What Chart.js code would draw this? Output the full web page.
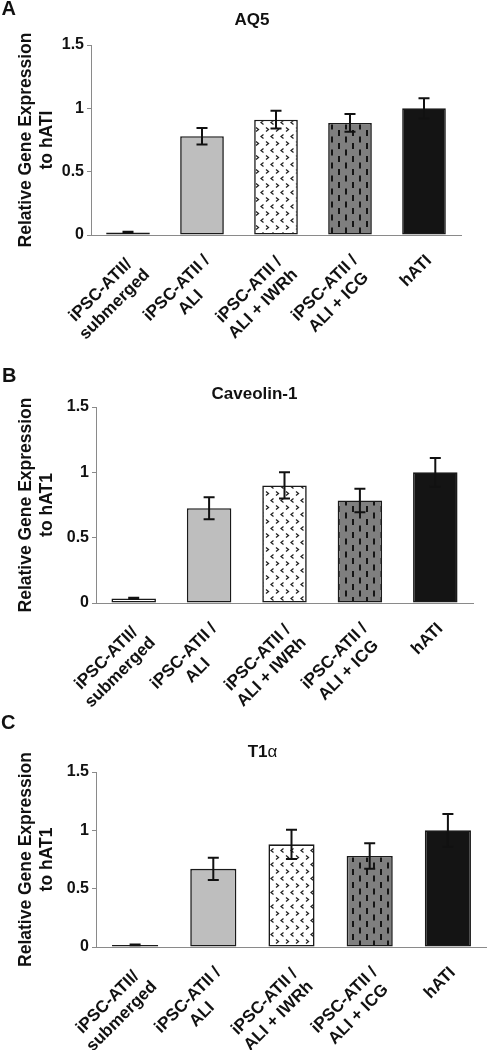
<!DOCTYPE html>
<html><head><meta charset="utf-8">
<script src="https://cdn.jsdelivr.net/npm/chart.js@4.4.1/dist/chart.umd.min.js"></script>
<style>
html,body{margin:0;padding:0;background:#fff;}
body{width:487px;height:1050px;position:relative;overflow:hidden;font-family:"Liberation Sans",Arial,sans-serif;}
canvas{position:absolute;left:0;}
.lbl{position:absolute;font-weight:bold;font-size:20px;line-height:20px;color:#111;}
.ttl{position:absolute;font-weight:bold;font-size:17px;line-height:17px;transform:translate(-50%,-50%);white-space:nowrap;color:#111;}
</style></head><body>
<canvas id="cA" width="487" height="380" style="top:0px"></canvas>
<canvas id="cB" width="487" height="380" style="top:350px"></canvas>
<canvas id="cC" width="487" height="350" style="top:700px"></canvas>
<div class="lbl" style="left:1.5px;top:-2px">A</div>
<div class="lbl" style="left:2px;top:364.5px">B</div>
<div class="lbl" style="left:1px;top:711.5px">C</div>
<div class="ttl" style="left:252px;top:18.5px">AQ5</div>
<div class="ttl" style="left:254.5px;top:393px">Caveolin-1</div>
<div class="ttl" style="left:262.5px;top:751px">T1<span style="font-weight:normal">α</span></div>
<script>
// ---- data ----
const categories = [
  ["iPSC-ATII/", "submerged"],
  ["iPSC-ATII /", "ALI"],
  ["iPSC-ATII /", "ALI + IWRh"],
  ["iPSC-ATII /", "ALI + ICG"],
  ["hATI"]
];
const yTicks = [0, 0.5, 1, 1.5];

const aq5Values = [0.02, 0.78, 0.91, 0.885, 1.0];
const aq5Errors = [0.005, 0.065, 0.07, 0.07, 0.08];

const cav1Values = [0.035, 0.725, 0.90, 0.785, 1.0];
const cav1Errors = [0.005, 0.085, 0.10, 0.09, 0.11];

const t1aValues = [0.018, 0.67, 0.88, 0.78, 1.0];
const t1aErrors = [0.003, 0.095, 0.125, 0.11, 0.14];

const yTitleA = ["Relative Gene Expression", "to hATI"];
const yTitleBC = ["Relative Gene Expression", "to hAT1"];

// ---- styling helpers ----
const FONT = '"Liberation Sans", Arial, sans-serif';
Chart.defaults.font.family = FONT;

function chevronPattern() {
  const c = document.createElement('canvas');
  c.width = 10; c.height = 14;
  const g = c.getContext('2d');
  g.fillStyle = '#ffffff'; g.fillRect(0, 0, 10, 14);
  g.strokeStyle = '#222'; g.lineWidth = 1.3;
  g.beginPath(); // ">"
  g.moveTo(6, 1.5); g.lineTo(8.5, 3.5); g.lineTo(6, 5.5);
  g.stroke();
  g.beginPath(); // "<"
  g.moveTo(3.5, 8.5); g.lineTo(1, 10.5); g.lineTo(3.5, 12.5);
  g.stroke();
  return g.createPattern(c, 'repeat');
}
function dashPattern() {
  const c = document.createElement('canvas');
  c.width = 14; c.height = 13;
  const g = c.getContext('2d');
  g.fillStyle = '#7f7f7f'; g.fillRect(0, 0, 14, 13);
  g.fillStyle = '#141414';
  g.fillRect(2, 0, 2, 6);
  g.fillRect(9, 6.5, 2, 6);
  return g.createPattern(c, 'repeat');
}
const patChevron = chevronPattern();
const patDash = dashPattern();

const errorBarPlugin = {
  id: 'errorBars',
  afterDatasetsDraw(chart) {
    const ctx = chart.ctx;
    const ys = chart.scales.y;
    const ds = chart.data.datasets[0];
    const meta = chart.getDatasetMeta(0);
    ctx.save();
    ctx.strokeStyle = '#111';
    ctx.lineWidth = 2;
    meta.data.forEach((bar, i) => {
      const v = ds.data[i], e = ds.errors[i];
      const x = bar.x;
      const yt = ys.getPixelForValue(v + e);
      const yb = ys.getPixelForValue(v - e);
      ctx.beginPath();
      ctx.moveTo(x, yt); ctx.lineTo(x, yb);
      ctx.moveTo(x - 5.5, yt); ctx.lineTo(x + 5.5, yt);
      ctx.moveTo(x - 5.5, yb); ctx.lineTo(x + 5.5, yb);
      ctx.stroke();
    });
    ctx.restore();
  }
};

const xLabelPlugin = {
  id: 'xLabels',
  afterDraw(chart) {
    const ctx = chart.ctx;
    const xs = chart.scales.x;
    const bottom = chart.chartArea.bottom;
    ctx.save();
    ctx.font = 'bold 17px ' + FONT;
    ctx.fillStyle = '#111';
    ctx.textAlign = 'center';
    ctx.textBaseline = 'middle';
    chart.data.labels.forEach((lab, i) => {
      const lines = Array.isArray(lab) ? lab : [lab];
      const W = Math.max(...lines.map(l => ctx.measureText(l).width));
      const x = xs.getPixelForValue(i);
      ctx.save();
      ctx.translate(x + 5, bottom + 23);
      ctx.rotate(-Math.PI / 4);
      lines.forEach((l, j) => ctx.fillText(l, -W / 2, j * 20));
      ctx.restore();
    });
    ctx.restore();
  }
};

function makeChart(id, values, errors, firstFill, yTitle, g) {
  return new Chart(document.getElementById(id), {
    type: 'bar',
    data: {
      labels: categories,
      datasets: [{
        data: values,
        errors: errors,
        backgroundColor: [firstFill, '#bebebe', patChevron, patDash, '#141414'],
        borderColor: '#1a1a1a',
        borderWidth: 1.6,
        borderSkipped: false,
        barPercentage: 0.59,
        categoryPercentage: 1
      }]
    },
    options: {
      responsive: false,
      animation: false,
      layout: { padding: { top: g.top, right: 487 - g.right, left: 0, bottom: 0 } },
      plugins: { legend: { display: false }, tooltip: { enabled: false }, title: { display: false } },
      scales: {
        x: {
          offset: true,
          grid: { display: false },
          ticks: { display: false },
          border: { display: true, color: '#8a8a8a', width: 1 },
          afterFit: (s) => { s.height = g.h - g.bottom; }
        },
        y: {
          min: 0, max: 1.5,
          afterBuildTicks: (s) => { s.ticks = yTicks.map(v => ({ value: v })); },
          ticks: {
            font: { size: 16, weight: 'bold', family: FONT },
            color: '#111',
            padding: 3,
            callback: (v) => String(v)
          },
          grid: { drawOnChartArea: false, drawTicks: true, tickLength: 4, color: '#8a8a8a' },
          border: { display: true, color: '#8a8a8a', width: 1 },
          title: {
            display: true,
            text: yTitle,
            color: '#111',
            font: { size: 17.5, weight: 'bold', family: FONT },
            padding: { top: 15.5, bottom: 0 }
          },
          afterFit: (s) => { s.width = g.left; }
        }
      }
    },
    plugins: [errorBarPlugin, xLabelPlugin]
  });
}

makeChart('cA', aq5Values, aq5Errors, '#bebebe', yTitleA, { left: 91, right: 461, top: 45, bottom: 235, h: 380 });
makeChart('cB', cav1Values, cav1Errors, '#ffffff', yTitleBC, { left: 96, right: 473, top: 57, bottom: 253, h: 380 });
makeChart('cC', t1aValues, t1aErrors, '#ffffff', yTitleBC, { left: 96, right: 487, top: 72, bottom: 247, h: 350 });
</script>
</body></html>
